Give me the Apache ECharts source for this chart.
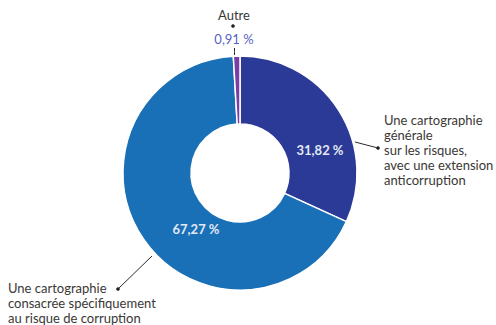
<!DOCTYPE html>
<html>
<head>
<meta charset="utf-8">
<script src="https://cdn.jsdelivr.net/npm/echarts@6/dist/echarts.min.js"></script>
<style>
  html, body { margin: 0; padding: 0; background: #ffffff; }
  #chart { width: 496px; height: 325px; }
</style>
</head>
<body>
<div id="chart"></div>
<script>
// Type de cartographie des risques utilisée (en % des répondants)
const categories = [
  'Une cartographie générale sur les risques, avec une extension anticorruption',
  'Une cartographie consacrée spécifiquement au risque de corruption',
  'Autre'
];
const values = [31.82, 67.27, 0.91];
const labelTexts = [
  'Une cartographie\ngénérale\nsur les risques,\navec une extension\nanticorruption',
  'Une cartographie\nconsacrée spécifiquement\nau risque de corruption',
  'Autre'
];

const colors = ['#2b3a96', '#1a70b7', '#7a3ea6'];
const FONT = 'Lato';
const TEXT = '#3a3835';

const CX = 240, CY = 173;

// Placement of the in-ring percentages
const insideLabelPos = { 0: [320, 150], 1: [196, 229] };

// Placement of the outer annotations: text anchor, leader line (slice edge -> dot)
const outerLayout = {
  0: { x: 384, y: 112, align: 'left',   vAlign: 'top', line: [[355, 142], [378, 148]] },
  1: { x: 8,   y: 280, align: 'left',   vAlign: 'top', line: [[152, 256], [118, 289]] },
  2: { x: 234, y: 8,   align: 'center', vAlign: 'top', line: [[234.5, 55], [234.5, 48]] }
};
const dots = [[378, 148], [118, 289], [233, 26]];

const fmt = v => v.toFixed(2).replace('.', ',') + ' %';

const chart = echarts.init(document.getElementById('chart'), null, { renderer: 'svg' });

const pieBase = {
  type: 'pie',
  center: [CX, CY],
  radius: [49, 117],
  startAngle: 90,
  clockwise: true,
  avoidLabelOverlap: false,
  animation: false
};

chart.setOption({
  backgroundColor: '#ffffff',
  series: [
    Object.assign({}, pieBase, {
      data: values.map((v, i) => ({ name: categories[i], value: v, itemStyle: { color: colors[i] } })),
      itemStyle: { borderColor: '#ffffff', borderWidth: 1.5 },
      label: {
        show: true,
        position: 'inside',
        formatter: p => (insideLabelPos[p.dataIndex] ? fmt(p.value) : ''),
        color: '#e2e9f4',
        fontFamily: FONT,
        fontSize: 13,
        fontWeight: 'bold'
      },
      labelLine: { show: false },
      labelLayout: p => {
        const pos = insideLabelPos[p.dataIndex];
        return pos ? { x: pos[0], y: pos[1], align: 'center', verticalAlign: 'middle' } : {};
      }
    }),
    Object.assign({}, pieBase, {
      silent: true,
      data: values.map((v, i) => ({ name: categories[i], value: v })),
      itemStyle: { color: 'rgba(0,0,0,0)', borderWidth: 0 },
      emphasis: { disabled: true },
      label: {
        show: true,
        position: 'outside',
        formatter: p => p.dataIndex === 2
          ? '{n|' + labelTexts[2] + '}\n{g| }\n{p|' + fmt(p.value) + '}'
          : labelTexts[p.dataIndex],
        color: TEXT,
        fontFamily: FONT,
        fontSize: 13,
        lineHeight: 15,
        rich: {
          n: { color: TEXT, fontFamily: FONT, fontSize: 13, lineHeight: 13 },
          g: { fontSize: 6, lineHeight: 11 },
          p: { color: '#5a5fc2', fontFamily: FONT, fontSize: 13, lineHeight: 13 }
        }
      },
      labelLine: { show: true, lineStyle: { color: '#2a2a2a', width: 1 } },
      labelLayout: p => {
        const o = outerLayout[p.dataIndex];
        const a = o.line[0], b = o.line[1];
        return {
          x: o.x, y: o.y, align: o.align, verticalAlign: o.vAlign,
          labelLinePoints: [a, [(a[0] + b[0]) / 2, (a[1] + b[1]) / 2], b]
        };
      }
    })
  ],
  graphic: dots.map(d => ({
    type: 'circle',
    shape: { cx: d[0], cy: d[1], r: 1.8 },
    style: { fill: '#1e1e1e' },
    silent: true
  }))
});
</script>
</body>
</html>
